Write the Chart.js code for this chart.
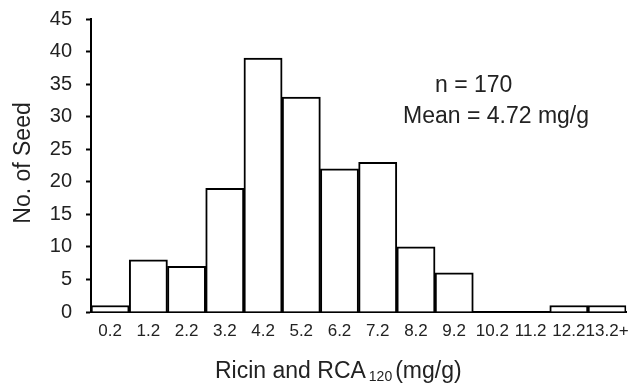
<!DOCTYPE html>
<html lang="en">
  <head>
    <meta charset="UTF-8" />
    <title>Ricin and RCA120 histogram</title>
    <script src="https://cdn.jsdelivr.net/npm/chart.js"></script>
    <style>
      html, body { margin: 0; padding: 0; background: #fff; }
      #wrap { position: relative; width: 638px; height: 386px; }
    </style>
  </head>
  <body>
    <div id="wrap"><canvas id="myChart"></canvas></div>
    <script>
      // bins (mg/g) and seed counts
      var bins = ["0.2", "1.2", "2.2", "3.2", "4.2", "5.2", "6.2", "7.2", "8.2", "9.2", "10.2", "11.2", "12.2", "13.2+"];
      var seeds = [1, 8, 7, 19, 39, 33, 22, 23, 10, 6, 0, 0, 1, 1];
      var yTicks = [0, 5, 10, 15, 20, 25, 30, 35, 40, 45];
      var notes = ["n = 170", "Mean = 4.72 mg/g"];
      var yTitle = "No. of Seed";

      var fontName = "'Liberation Sans', Arial, sans-serif";
      var ink = "#222";

      // notes, y title and the x title (with subscript 120)
      var extraText = {
        id: "extraText",
        afterDraw: function (chart) {
          var c = chart.ctx;
          c.save();
          c.fillStyle = ink;
          c.textBaseline = "middle";
          c.textAlign = "left";
          c.font = "23px " + fontName;
          c.fillText(notes[0], 435, 86);
          c.fillText(notes[1], 403, 117);

          // y title, rotated
          c.save();
          c.translate(24, 163);
          c.rotate(-Math.PI / 2);
          c.textAlign = "center";
          c.font = "23px " + fontName;
          c.fillText(yTitle, 0, 0);
          c.restore();

          // x title
          var y = 372;
          var x = 215;
          c.textAlign = "left";
          c.font = "23px " + fontName;
          c.fillText("Ricin and RCA", x, y);
          x += c.measureText("Ricin and RCA").width + 3;
          c.font = "14px " + fontName;
          c.fillText("120", x, y + 5);
          x += c.measureText("120").width + 3;
          c.font = "23px " + fontName;
          c.fillText("(mg/g)", x, y);
          c.restore();
        },
      };

      const ctx = document.getElementById("myChart");
      new Chart(ctx, {
        type: "bar",
        data: {
          labels: bins,
          datasets: [
            {
              label: yTitle,
              data: seeds,
              backgroundColor: "#fff",
              borderColor: "#000",
              borderWidth: 2,
              borderSkipped: "bottom",
              barPercentage: 1,
              categoryPercentage: 1,
            },
          ],
        },
        options: {
          responsive: true,
          maintainAspectRatio: false,
          animation: false,
          layout: { padding: { top: 0, right: 11, left: 0, bottom: 0 } },
          plugins: {
            legend: { display: false },
            tooltip: { enabled: false },
          },
          scales: {
            x: {
              grid: { display: false, drawTicks: false },
              border: { display: true, color: "#000", width: 2 },
              ticks: {
                color: ink,
                font: { family: fontName, size: 17 },
                padding: 9,
                maxRotation: 0,
                autoSkip: false,
              },
              afterFit: function (scale) {
                scale.height = 74;
              },
            },
            y: {
              min: 0,
              max: 45,
              afterBuildTicks: function (scale) {
                scale.ticks = yTicks.map(function (v) { return { value: v }; });
              },
              grid: {
                drawOnChartArea: false,
                drawTicks: true,
                tickLength: 5,
                tickWidth: 2,
                tickColor: "#000",
              },
              border: { display: true, color: "#000", width: 2 },
              ticks: {
                color: ink,
                font: { family: fontName, size: 20, lineHeight: 1 },
                padding: 14,
              },
              afterFit: function (scale) {
                scale.width = 91;
                scale.paddingTop = 19;
              },
            },
          },
        },
        plugins: [extraText],
      });
    </script>
  </body>
</html>
